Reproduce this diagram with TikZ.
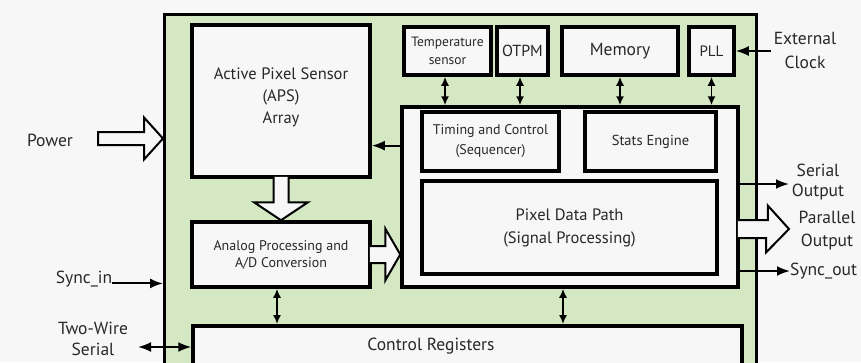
\documentclass[tikz,border=0pt]{standalone}
\usepackage{fontspec}
\setmainfont{PT Sans}
\usetikzlibrary{arrows.meta, calc, positioning}
\definecolor{chip-green}{RGB}{212,232,196}
\definecolor{page-grey}{RGB}{247,247,247}
\definecolor{ink}{RGB}{40,40,40}

\begin{document}
\begin{tikzpicture}[x=1pt, y=-1pt,
	blk/.style={draw, line width=3.5pt, fill=page-grey, align=center, inner sep=0pt, text=ink},
	lbl/.style={align=center, inner sep=0pt, text=ink, font=\fontsize{17.5}{22}\selectfont},
	sarr/.style={line width=2pt, -{Latex[length=13pt, width=10pt]}},
	darr/.style={line width=1.6pt, {Latex[length=9pt, width=8pt]}-{Latex[length=9pt, width=8pt]}},
	hollow/.style={draw, line width=2pt, fill=page-grey, miter limit=20}]
					\useasboundingbox (0,0) rectangle (861,362);
					\clip (0,0) rectangle (861,362);
					\fill[page-grey] (0,0) rectangle (861,362);
					
					\node[draw, line width=3pt, fill=chip-green, minimum width=592, minimum height=420, anchor=north west] at (163,13) (chip) {};
					
					\node[blk, minimum width=178, minimum height=152, font=\fontsize{16.5}{22}\selectfont] at (281,101) (aps) {Active Pixel Sensor\\(APS)\\Array\\[-12pt]};
					\node[blk, minimum width=87, minimum height=48, font=\fontsize{13.5}{18}\selectfont] at (447.5,51) (temp) {Temperature\\sensor};
					\node[blk, minimum width=51, minimum height=48, font=\fontsize{16}{16}\selectfont] at (522.5,51) (otpm) {OTPM};
					\node[blk, minimum width=116, minimum height=48, font=\fontsize{17.5}{16}\selectfont] at (620,51) (mem) {Memory};
					\node[blk, minimum width=45, minimum height=48, font=\fontsize{15}{16}\selectfont] at (711.5,51) (pll) {PLL};
					
					\node[blk, minimum width=336, minimum height=180] at (570,197) (box) {};
					\node[blk, minimum width=137, minimum height=59, font=\fontsize{14}{20}\selectfont] at (490.5,141.5) (tcs) {Timing and Control\\(Sequencer)};
					\node[blk, minimum width=131, minimum height=59, font=\fontsize{14.5}{20}\selectfont] at (650.5,141.5) (stats) {Stats Engine};
					\node[blk, minimum width=295, minimum height=93, font=\fontsize{16.5}{23}\selectfont] at (569.5,227.5) (pix) {Pixel Data Path\\(Signal Processing)};
					\node[blk, minimum width=178, minimum height=65, font=\fontsize{14}{17}\selectfont] at (281,254.5) (ana) {Analog Processing and\\A/D Conversion};
					\node[blk, minimum width=549, minimum height=80, anchor=north] at (467.5,324) (ctrl) {};
					\node[lbl] at (431,346) (ctrltxt) {Control Registers};
					
					\draw[darr] (temp.south -| 445,0) -- (445,0 |- box.north);
					\draw[darr] (otpm.south -| 520,0) -- (520,0 |- box.north);
					\draw[darr] (mem.south) -- (mem.south |- box.north);
					\draw[darr] (pll.south) -- (pll.south |- box.north);
					\draw[darr] (ana.south -| 277,0) -- (277,0 |- ctrl.north);
					\draw[darr] (box.south -| 563,0) -- (563,0 |- ctrl.north);
					
					\coordinate (fb) at ($(box.north west)!0.22!(box.south west)$);
					\draw[sarr] (fb) -- (fb -| aps.east);
					
					\node[lbl, font=\fontsize{17.5}{24}\selectfont] at (805,50) (clk) {External\\Clock};
					\draw[sarr] ([xshift=-3]clk.west |- pll.east) -- (pll.east);
					
					\node[lbl, font=\fontsize{17.5}{20}\selectfont] at (818,182) (ser) {Serial\\Output};
					\draw[sarr] (box.east |- 0,184) -- (789,184);
					\node[lbl, anchor=west] at (790,271) (syncout) {Sync\_out};
					\draw[sarr] (box.east |- syncout.west) -- (syncout.west);
					\node[lbl, font=\fontsize{17.5}{23}\selectfont] at (827,231) (par) {Parallel\\Output};
					\coordinate (ptip) at (789,229);
					\draw[hollow] ($(ptip -| box.east)+(-2,-9)$) -- ++(30,0) -- ++(0,-14.5) -- (ptip) -- ++(-23,23.5) -- ++(0,-14.5) -- ($(ptip -| box.east)+(-2,9)$);
					
					\node[lbl] at (50,140) (pwr) {Power};
					\coordinate (pwrtip) at (chip.west |- 0,138.5);
					\draw[hollow] (pwrtip) -- ++(-19,-21) -- ++(0,14.5) -- ++(-46,0) -- ++(0,13) -- ++(46,0) -- ++(0,14.5) -- cycle;
					
					\coordinate (dtip) at (aps.south |- ana.north);
					\draw[hollow] ($(aps.south)+(-7.5,-2)$) -- ($(dtip)+(-7.5,-18)$) -- ++(-19.5,0) -- (dtip) -- ++(27,-18) -- ++(-19.5,0) -- ($(aps.south)+(7.5,-2)$);
					
					\coordinate (rtip) at (ana.east -| box.west);
					\draw[hollow] ($(ana.east)+(-2,-8.5)$) -- ($(rtip)+(-15,-8.5)$) -- ++(0,-17.5) -- (rtip) -- ++(-15,26) -- ++(0,-17.5) -- ($(ana.east)+(-2,8.5)$);
					
					\node[lbl] at (84,279) (syncin) {Sync\_in};
					\draw[sarr] (syncin.base east) -- (syncin.base east -| chip.west);
					
					\node[lbl, font=\fontsize{17.5}{21}\selectfont] at (93,339) (twi) {Two-Wire\\Serial};
					\coordinate (twiend) at (138,347);
					\draw[darr, {Latex[length=13pt, width=10pt]}-{Latex[length=13pt, width=10pt]}, line width=2pt] (twiend) -- (twiend -| ctrl.west);
				\end{tikzpicture}
\end{document}
